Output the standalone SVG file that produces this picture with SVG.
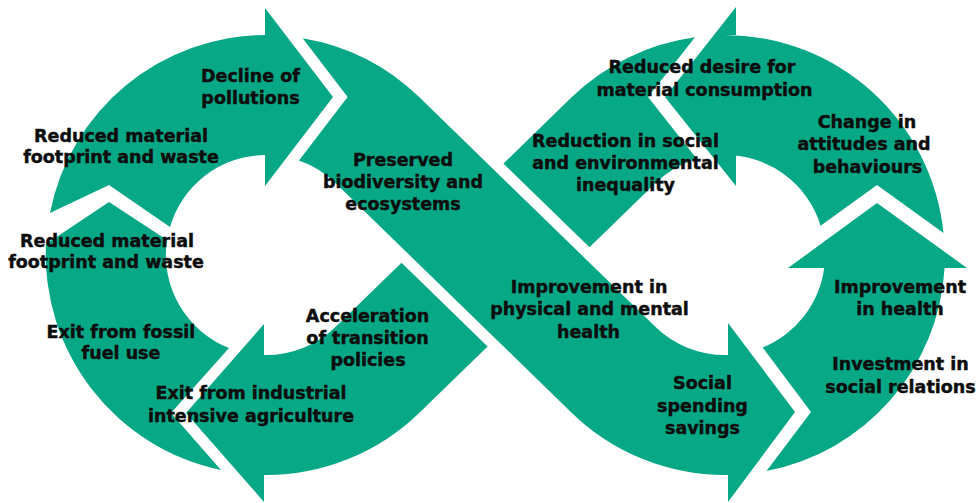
<svg xmlns="http://www.w3.org/2000/svg" width="976" height="503" viewBox="0 0 976 503">
<style>
.arrow{fill:#06a886;stroke:none}
.lbl{font-family:"DejaVu Sans","Liberation Sans",sans-serif;font-weight:700;font-size:17.5px;fill:#0d0d0d;stroke:#0d0d0d;stroke-width:0.45px;text-anchor:middle}
</style>
<rect width="976" height="503" fill="#ffffff"/>
<g id="connectors">
<path id="arrow-top-left" class="arrow" d="M50,213 A220,220 0 0 1 266,35 L265,35 L265,8 L333,97 L265,186 L265,155 A100,100 0 0 0 170,227 L109,185 Z"/>
<path id="arrow-left" class="arrow" d="M109,202 L46,244 A220,220 0 0 0 221,470 L171,413 L229,348 A100,100 0 0 1 167,240 Z"/>
<path id="arrow-bottom-left" class="arrow" d="M266,355 L264,355 L264,324 L186,413 L264,502 L264,475 L266,475 A220,220 0 0 0 419.4,412.7 L487.6,346.4 L401.5,262.7 L335.7,326.7 A100,100 0 0 1 266,355 Z"/>
<path id="arrow-middle" class="arrow" d="M347.6,97 L302.7,38.2 A220,220 0 0 1 419.4,97.3 L655.3,326.7 A100,100 0 0 0 725,355 L728,355 L728,323 L795,412 L728,502 L728,475 L725,475 A220,220 0 0 1 571.6,412.7 L335.7,183.3 A100,100 0 0 0 299,160.6 Z"/>
<path id="arrow-bottom-right" class="arrow" d="M811,412 L766.5,471.1 A220,220 0 0 0 944.6,268 L967,268 L877,203 L788,268 L824.2,268 A100,100 0 0 1 762.7,347.5 Z"/>
<path id="arrow-top-right" class="arrow" d="M877,185 L943.5,233 A220,220 0 0 0 725,35 L736,35 L736,7 L665,97 L736,186 L736,155 L725,155 A100,100 0 0 1 820.6,225.7 Z"/>
<path id="arrow-upper-diagonal" class="arrow" d="M648,97 L695,37.3 A220,220 0 0 0 571.6,97.3 L503.4,163.6 L589.5,247.3 L655.3,183.3 A100,100 0 0 1 696.9,159 Z"/>
</g>
<g id="node-decline-pollutions"><text class="lbl" x="250.5" y="82">Decline of</text><text class="lbl" x="250.5" y="104">pollutions</text></g>
<g id="node-reduced-material-1"><text class="lbl" x="121" y="142">Reduced material</text><text class="lbl" x="121" y="163">footprint and waste</text></g>
<g id="node-preserved-biodiversity"><text class="lbl" x="403" y="166">Preserved</text><text class="lbl" x="403" y="188">biodiversity and</text><text class="lbl" x="403" y="210">ecosystems</text></g>
<g id="node-reduced-material-2"><text class="lbl" x="107" y="247">Reduced material</text><text class="lbl" x="106" y="268">footprint and waste</text></g>
<g id="node-exit-fossil"><text class="lbl" x="121" y="338">Exit from fossil</text><text class="lbl" x="121" y="359">fuel use</text></g>
<g id="node-acceleration"><text class="lbl" x="367.5" y="322">Acceleration</text><text class="lbl" x="367.5" y="344">of transition</text><text class="lbl" x="368" y="366">policies</text></g>
<g id="node-exit-agriculture"><text class="lbl" x="251" y="399">Exit from industrial</text><text class="lbl" x="251" y="422">intensive agriculture</text></g>
<g id="node-reduced-desire"><text class="lbl" x="702" y="73">Reduced desire for</text><text class="lbl" x="704.5" y="96">material consumption</text></g>
<g id="node-reduction-inequality"><text class="lbl" x="625.5" y="147">Reduction in social</text><text class="lbl" x="625.5" y="169">and environmental</text><text class="lbl" x="625.5" y="191">inequality</text></g>
<g id="node-change-attitudes"><text class="lbl" x="867" y="128">Change in</text><text class="lbl" x="864" y="150">attitudes and</text><text class="lbl" x="867.5" y="173">behaviours</text></g>
<g id="node-improvement-physical"><text class="lbl" x="589" y="293">Improvement in</text><text class="lbl" x="589.5" y="315">physical and mental</text><text class="lbl" x="588.5" y="338">health</text></g>
<g id="node-social-spending"><text class="lbl" x="702.5" y="389">Social</text><text class="lbl" x="702.5" y="412">spending</text><text class="lbl" x="702.5" y="434">savings</text></g>
<g id="node-improvement-health"><text class="lbl" x="900" y="293">Improvement</text><text class="lbl" x="900" y="315">in health</text></g>
<g id="node-investment-social"><text class="lbl" x="900.5" y="370">Investment in</text><text class="lbl" x="900.5" y="393">social relations</text></g>
</svg>
